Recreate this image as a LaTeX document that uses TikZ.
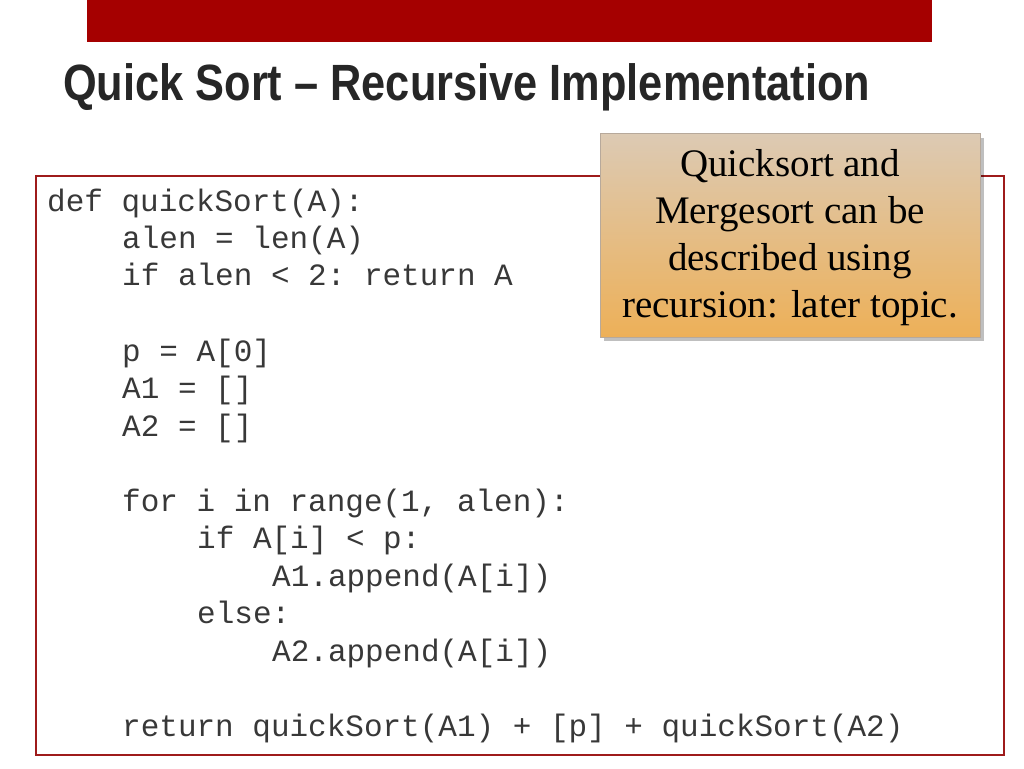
\documentclass[tikz,border=0pt]{standalone}
\usepackage{fontspec}
\setmainfont{Liberation Serif}
\setmonofont{Liberation Mono}
\newfontfamily\titlefont{Liberation Sans}
\usetikzlibrary{shadows}
\definecolor{barred}{HTML}{A50000}
\definecolor{boxred}{HTML}{9E1B1B}
\definecolor{codegray}{HTML}{383838}
\definecolor{ctop}{HTML}{DCCAB4}
\definecolor{cbot}{HTML}{EDB058}
\tikzset{codeline/.style={anchor=base west,inner sep=0pt,font=\ttfamily\fontsize{31}{31}\selectfont,text=codegray}}
\begin{document}
\begin{tikzpicture}[x=1pt,y=-1pt]
\useasboundingbox (0,0) rectangle (1024,768);
\fill[barred] (87,0) rectangle (932,42);
\node[anchor=base west,inner sep=0pt,font=\titlefont\bfseries\fontsize{51}{51}\selectfont,xscale=0.85,transform shape,text=black!85] (title) at (63,100) {Quick Sort – Recursive Implementation};
\draw[boxred,line width=1.5pt] (36,176) rectangle (1004,755);
\foreach \t/\x/\y [count=\i] in {
 {def quickSort(A):}/47/211,
 {alen = len(A)}/122/248,
 {if alen < 2: return A}/122/285,
 {p = A[0]}/122/361,
 {A1 = []}/122/398,
 {A2 = []}/122/436,
 {for i in range(1, alen):}/122/511,
 {if A[i] < p:}/197/548,
 {A1.append(A[i])}/272/586,
 {else:}/197/623,
 {A2.append(A[i])}/272/661,
 {return quickSort(A1) + [p] + quickSort(A2)}/122/736}
 \node[codeline] (c\i) at (\x,\y) {\t};
\fill[black,opacity=0.25] (604,138) rectangle (984,341);
\shade[top color=ctop,bottom color=cbot] (600,133) rectangle (980,337);
\draw[draw=brown!50!black!45] (600,133) rectangle (980,337);
\node[align=center,font=\fontsize{39}{47}\selectfont,inner sep=0pt] (note) at (790,238) {Quicksort and\\Mergesort can be\\described using\\recursion: later topic.};
\end{tikzpicture}
\end{document}
